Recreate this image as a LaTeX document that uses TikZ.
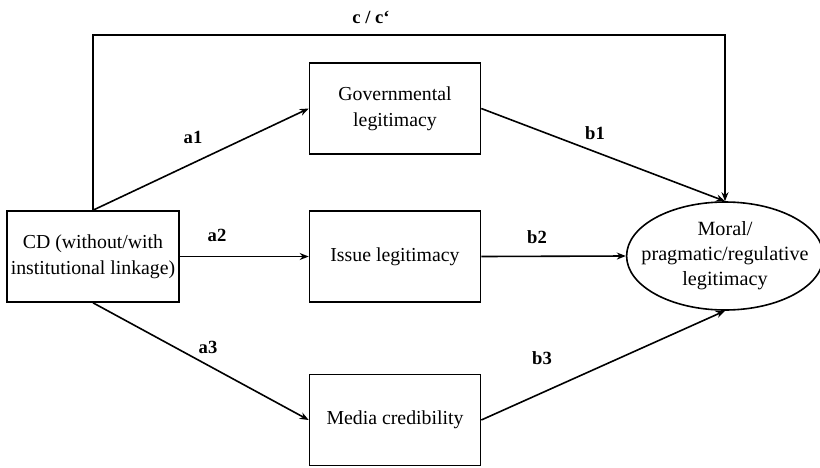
\documentclass[tikz,border=0pt]{standalone}
\usepackage{fontspec}
\setmainfont{Liberation Serif}
\usetikzlibrary{arrows.meta,shapes.geometric}
\tikzset{
  varbox/.style = {draw, line width=0.8pt, minimum width=85.5pt, minimum height=45.5pt,
                   align=center, inner sep=2pt, font=\fontsize{9.9}{13}\selectfont},
  outcome/.style = {draw, ellipse, line width=0.8pt, minimum width=94.5pt, minimum height=54pt,
                    inner xsep=-7pt, inner ysep=0pt, align=center, font=\fontsize{10.1}{12.5}\selectfont},
  path/.style = {line width=0.8pt, -{Stealth[length=4.5pt,width=3.5pt]}},
  coef/.style = {font=\fontsize{9.3}{11}\selectfont\bfseries, inner sep=1pt}
}
\begin{document}
\begin{tikzpicture}[x=0.5pt, y=-0.5pt]
 \useasboundingbox (0,0) rectangle (820,467);
 % variables
 \node[varbox] (cd) at (93,256.5) {CD (without/with\\institutional linkage)};
 \node[varbox] (gov) at (395,108.5) {Governmental\\legitimacy};
 \node[varbox] (issue) at (395,256.5) {Issue legitimacy};
 \node[varbox] (media) at (395,420) {Media credibility};
 \node[outcome] (out) at (725,256) {Moral/\\pragmatic/regulative\\legitimacy};
 % direct effect
 \coordinate (ctop) at (400,35);
 \draw[path] (cd.north) |- (ctop) -| (out.north);
 \node[coef] (lblc) at (371,17) {c / c‘};
 % indirect effects
 \draw[path] (cd.north) -- (gov.west);
 \draw[path] (cd.east) -- (issue.west);
 \draw[path] (cd.south) -- (media.west);
 \draw[path] (gov.east) -- (out.north);
 \draw[path] (issue.east) -- (out.west);
 \draw[path] (media.east) -- (out.south);
 \node[coef] (lbla1) at (193,137) {a1};
 \node[coef] (lbla2) at (217,235) {a2};
 \node[coef] (lbla3) at (208,347) {a3};
 \node[coef] (lblb1) at (595,133) {b1};
 \node[coef] (lblb2) at (537,237) {b2};
 \node[coef] (lblb3) at (542,358) {b3};
\end{tikzpicture}
\end{document}
